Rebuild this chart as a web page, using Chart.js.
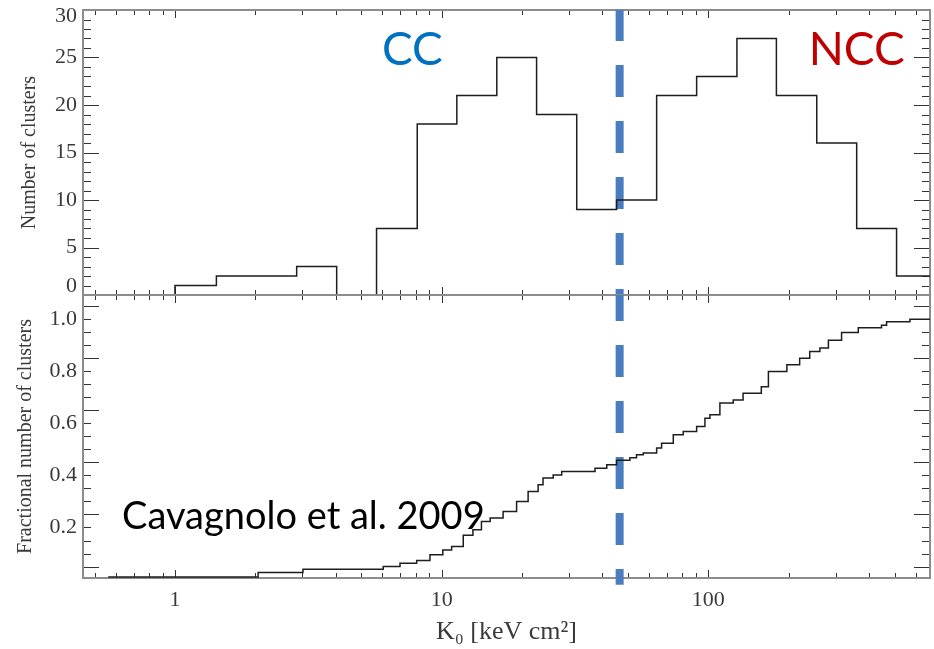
<!DOCTYPE html>
<html>
<head>
<meta charset="utf-8">
<script src="https://cdn.jsdelivr.net/npm/chart.js@4.4.1/dist/chart.umd.min.js"></script>
<style>
  html,body{margin:0;background:#fff;}
  #wrap{position:relative;width:934px;height:649px;}
  #wrap canvas{position:absolute;left:0;top:0;}
</style>
</head>
<body>
<div id="wrap">
  <canvas id="histChart" width="934" height="649"></canvas>
  <canvas id="cumChart" width="934" height="649"></canvas>
</div>
<script>
// K0 histogram (top) + cumulative fraction (bottom)
const binEdges  = [1.0, 1.43, 2.02, 2.86, 4.04, 5.70, 8.1, 11.4, 16.1, 22.7, 32.1, 45.3, 64.0, 90.4, 128, 180, 255, 360, 508, 718];
const binCounts = [1, 2, 2, 3, 0, 7, 18, 21, 25, 19, 9, 10, 21, 23, 27, 21, 16, 7, 2];

const cumK    = [0.562, 2.05, 3.02, 6.04, 6.98, 8.06, 9.04, 10.1, 10.9, 12.05, 13.1, 14.1, 15.2, 17.0, 19.1, 21.1, 23.0, 24.0, 26.2, 28.2,
                 37.6, 41.6, 45.3, 50.8, 53.8, 57.0, 64.0, 66.8, 73.9, 80.5, 90.4, 97.1, 101.4, 110.5, 124, 135, 158, 168, 197, 220,
                 240, 262, 282, 316, 365, 446, 466, 570, 680];
const cumFrac = [0.010, 0.027, 0.040, 0.050, 0.063, 0.073, 0.095, 0.114, 0.127, 0.170, 0.191, 0.223, 0.236, 0.261, 0.300, 0.338, 0.364, 0.390, 0.402, 0.415,
                 0.428, 0.441, 0.458, 0.468, 0.479, 0.486, 0.505, 0.524, 0.556, 0.569, 0.588, 0.620, 0.633, 0.678, 0.690, 0.716, 0.741, 0.799, 0.825, 0.850,
                 0.876, 0.889, 0.919, 0.949, 0.967, 0.977, 0.990, 1.0, 1.0];

const xTickLabels    = [1, 10, 100];
const histTickLabels = [0, 5, 10, 15, 20, 25, 30];
const cumTickLabels  = [0.2, 0.4, 0.6, 0.8, 1.0];
const ccBoundary = 46.5;

const xMin = 0.452, xMax = 678;
const $ = id => document.getElementById(id);
const serif = 'Liberation Serif, Times New Roman, serif';
const axisGray = '#3a3a3a';

// minor tick positions for the log axis (2..9 x each decade)
const xMinor = [];
[0.1, 1, 10, 100].forEach(d => { for (let m = 1; m <= 9; m++) { const v = d * m; if (v >= xMin && v <= xMax) xMinor.push({v, major: m === 1}); } });

// IDL-style box with inward ticks on all four sides, y labels kept inside the box height
const framePlugin = {
  id: 'frame',
  beforeDatasetsDraw(chart, args, opts) {
    const {ctx, chartArea: {left, right, top, bottom}, scales: {x, y}} = chart;
    ctx.save();
    ctx.strokeStyle = '#333'; ctx.lineWidth = 1;
    ctx.beginPath();
    xMinor.forEach(t => {
      const px = Math.round(x.getPixelForValue(t.v)) + 0.5, len = t.major ? 8 : 5;
      ctx.moveTo(px, top); ctx.lineTo(px, top + len);
      ctx.moveTo(px, bottom); ctx.lineTo(px, bottom - len);
    });
    for (let i = 0; opts.yFrom + i * opts.yStep <= opts.yTo + 1e-9; i++) {
      const py = Math.round(y.getPixelForValue(opts.yFrom + i * opts.yStep)) + 0.5, len = i % opts.every === 0 ? 16 : 8;
      ctx.moveTo(left, py); ctx.lineTo(left + len, py);
      ctx.moveTo(right, py); ctx.lineTo(right - len, py);
    }
    ctx.stroke();
    ctx.strokeStyle = '#8c8c8c'; ctx.lineWidth = 2;
    ctx.strokeRect(left, top, right - left, bottom - top);

    ctx.font = `22px ${serif}`; ctx.fillStyle = axisGray; ctx.textAlign = 'right'; ctx.textBaseline = 'middle';
    opts.labels.forEach(v => {
      const py = Math.min(Math.max(y.getPixelForValue(v), top + 6), bottom - 9);
      ctx.fillText(opts.fmt(v), left - 6, py);
    });
    ctx.restore();
  }
};

const notesPlugin = {
  id: 'notes',
  afterDraw(chart, args, opts) {
    const {ctx, scales: {x, y}} = chart;
    (opts.items || []).forEach(n => {
      ctx.save();
      ctx.font = n.font; ctx.fillStyle = n.color; ctx.textAlign = 'left'; ctx.textBaseline = 'alphabetic';
      ctx.fillText(n.text, x.getPixelForValue(n.x), y.getPixelForValue(n.y));
      ctx.restore();
    });
  }
};

const histPoints = [{x: binEdges[0], y: 0}, ...binCounts.map((c, i) => ({x: binEdges[i], y: c})), {x: binEdges[binEdges.length - 1], y: binCounts[binCounts.length - 1]}];
const cumPoints = cumK.map((k, i) => ({x: k, y: cumFrac[i]}));

const yAxis = (min, max, title, titlePad) => ({
  min, max,
  afterFit: s => { s.width = 83; },
  grid: {display: false, drawTicks: false}, border: {display: false},
  ticks: {display: false},
  title: {display: true, text: title, font: {family: serif, size: 20}, color: axisGray, padding: {top: titlePad, bottom: 0}}
});

const base = {responsive: false, animation: false, devicePixelRatio: 1, events: []};

new Chart($('histChart'), {
  type: 'line',
  data: {datasets: [
    {data: histPoints, stepped: 'before', borderColor: '#1e1e1e', borderWidth: 1.5, pointRadius: 0, fill: false},
    {data: [{x: ccBoundary, y: 30}, {x: ccBoundary, y: 0}], borderColor: '#4a7dbf', borderWidth: 8, borderDash: [32, 24], borderDashOffset: 1, pointRadius: 0, borderCapStyle: 'butt'}
  ]},
  options: {...base,
    layout: {padding: {left: 0, right: 4, top: 10, bottom: 649 - 295}},
    plugins: {legend: {display: false}, tooltip: {enabled: false},
      frame: {yFrom: 0, yTo: 30, yStep: 1, every: 5, labels: histTickLabels, fmt: v => String(v)},
      notes: {items: [
        {text: 'CC', x: 5.97, y: 24.2, color: '#0070c0', font: '46px Lato, sans-serif'},
        {text: 'NCC', x: 238, y: 24.2, color: '#c00000', font: '46px Lato, sans-serif'}
      ]}},
    scales: {
      x: {type: 'logarithmic', min: xMin, max: xMax, display: false},
      y: yAxis(0, 30, 'Number of clusters', 18)
    }
  },
  plugins: [framePlugin, notesPlugin]
});

new Chart($('cumChart'), {
  type: 'line',
  data: {datasets: [
    {data: cumPoints, stepped: 'before', borderColor: '#1e1e1e', borderWidth: 1.5, pointRadius: 0, fill: false},
    {data: [{x: ccBoundary, y: 1.093}, {x: ccBoundary, y: -0.02}], borderColor: '#4a7dbf', borderWidth: 8, borderDash: [32, 24], borderDashOffset: 6, pointRadius: 0, borderCapStyle: 'butt', clip: false}
  ]},
  options: {...base,
    layout: {padding: {left: 0, right: 4, top: 295, bottom: 0}},
    plugins: {legend: {display: false}, tooltip: {enabled: false},
      frame: {yFrom: 0.05, yTo: 1.05, yStep: 0.05, every: 4, labels: cumTickLabels, fmt: v => v.toFixed(1)},
      notes: {items: [
        {text: 'Cavagnolo et al. 2009', x: 0.633, y: 0.193, color: '#000', font: '38px Lato, sans-serif'}
      ]}},
    scales: {
      x: {type: 'logarithmic', min: xMin, max: xMax,
        afterBuildTicks: s => { s.ticks = xTickLabels.map(v => ({value: v})); },
        afterFit: s => { s.height = 71; },
        grid: {display: false, drawTicks: false}, border: {display: false},
        ticks: {font: {family: serif, size: 22}, color: axisGray, padding: 9, maxRotation: 0, autoSkip: false, callback: v => String(v)},
        title: {display: true, text: 'K₀ [keV cm²]', font: {family: serif, size: 26}, color: axisGray, padding: {top: 0, bottom: 1}}
      },
      y: yAxis(0.006, 1.093, 'Fractional number of clusters', 14)
    }
  },
  plugins: [framePlugin, notesPlugin]
});
</script>
</body>
</html>
